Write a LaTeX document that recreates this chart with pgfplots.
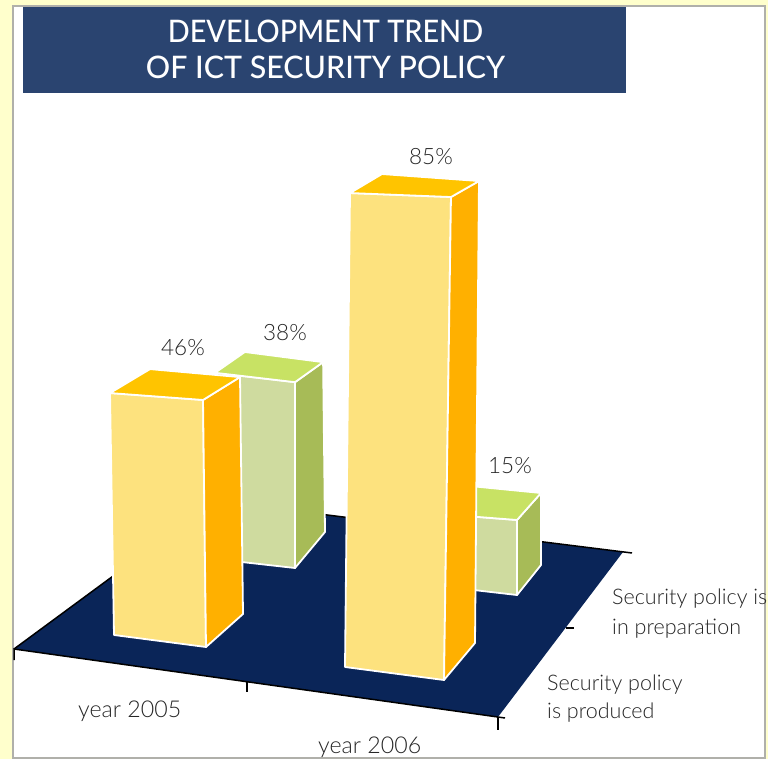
\documentclass[border=0pt]{standalone}
\usepackage{fontspec}
\setmainfont{Lato Medium}
\newfontfamily\lightfont{Lato Light}
\usepackage{pgfplots}
\pgfplotsset{compat=1.18}

\definecolor{cream}{HTML}{FFFFCC}
\definecolor{panelline}{HTML}{B0B0AA}
\definecolor{banner}{HTML}{2A4470}
\definecolor{floorblue}{HTML}{0A2558}
\definecolor{yfront}{HTML}{FDE27E}
\definecolor{yside}{HTML}{FFB000}
\definecolor{ytop}{HTML}{FFC400}
\definecolor{gfront}{HTML}{CFDB9F}
\definecolor{gside}{HTML}{A7BB57}
\definecolor{gtop}{HTML}{C8E264}
\definecolor{labelgrey}{HTML}{262626}

\pgfplotsset{
  face/.style={fill=#1, draw=white, line width=1.8pt, line join=round},
  floorline/.style={black, line width=1.5pt},
}
\tikzset{
  lab/.style={anchor=west, text=labelgrey, inner sep=0pt,
    font=\lightfont\fontsize{21.5}{22}\selectfont},
  yearlab/.style={lab, font=\lightfont\fontsize{23.2}{24}\selectfont},
  val/.style={lab, anchor=center, font=\lightfont\fontsize{22.5}{23}\selectfont},
  head/.style={text=white, inner sep=0pt, font=\fontsize{31}{31}\selectfont},
}

\begin{document}
\begin{tikzpicture}
\begin{axis}[
    scale only axis, width=768pt, height=759pt,
    xmin=0, xmax=768, ymin=0, ymax=759, y dir=reverse,
    hide axis,
    % x y = foot of the edge in the picture, z = percent, s d = edge's slope per percent
    table/x expr=\thisrow{x}+\thisrow{d}*\thisrow{z},
    table/y expr=\thisrow{y}-\thisrow{s}*\thisrow{z},
]
% page and panel
\addplot[fill=cream, draw=none] coordinates {(0,0) (768,0) (768,759) (0,759)} -- cycle;
\addplot[fill=white, draw=panelline, line width=2pt] coordinates {(12.5,6) (765,6) (765,757.5) (12.5,757.5)} -- cycle;
\addplot[fill=banner, draw=none] coordinates {(23,7) (626,7) (626,93) (23,93)} -- cycle;

% floor
\addplot[fill=floorblue, draw=none] coordinates {(14,649) (215,501) (623,552) (498,717)} -- cycle;
\addplot[floorline] coordinates {(14,649) (215,501) (632,553)};
\addplot[floorline] coordinates {(14,660) (14,649) (505,718)};
\addplot[floorline] coordinates {(247,682) (247,692)};
\addplot[floorline] coordinates {(498,717) (498,730)};
\addplot[floorline] coordinates {(566,628) (574,628)};

% 2005, in preparation
\addplot[face=gfront] table {
x y z s d
215 559 0 4.9 0
295 568 0 4.89 0
295 568 38 4.89 0
215 559 38 4.9 0
} -- cycle;
\addplot[face=gside] table {
x y z s d
295 568 0 4.89 0
325 532 0 4.47 -0.05
325 532 38 4.47 -0.05
295 568 38 4.89 0
} -- cycle;
\addplot[face=gtop] table {
x y z s d
215 559 38 4.9 0
295 568 38 4.89 0
325 532 38 4.47 -0.05
246 523 38 4.5 -0.03
} -- cycle;

% 2006, in preparation
\addplot[face=gfront] table {
x y z s d
465 589 0 4.87 0
517 595 0 5 0
517 595 15 5 0
465 589 15 4.87 0
} -- cycle;
\addplot[face=gside] table {
x y z s d
517 595 0 5 0
541 565 0 4.8 0
541 565 15 4.8 0
517 595 15 5 0
} -- cycle;
\addplot[face=gtop] table {
x y z s d
465 589 15 4.87 0
517 595 15 5 0
541 565 15 4.8 0
470 558 15 4.8 0
} -- cycle;

% 2005, produced
\addplot[face=yfront] table {
x y z s d
114 635 0 5.26 -0.087
206 647 0 5.37 -0.065
206 647 46 5.37 -0.065
114 635 46 5.26 -0.087
} -- cycle;
\addplot[face=yside] table {
x y z s d
206 647 0 5.37 -0.065
243 614 0 5.15 -0.065
243 614 46 5.15 -0.065
206 647 46 5.37 -0.065
} -- cycle;
\addplot[face=ytop] table {
x y z s d
114 635 46 5.26 -0.087
206 647 46 5.37 -0.065
243 614 46 5.15 -0.065
153 606 46 5.15 -0.065
} -- cycle;

% 2006, produced
\addplot[face=yfront] table {
x y z s d
345 667 0 5.576 0.0588
444 680 0 5.682 0.082
444 680 85 5.682 0.082
345 667 85 5.576 0.0588
} -- cycle;
\addplot[face=yside] table {
x y z s d
444 680 0 5.682 0.082
475 643 0 5.435 0.047
475 643 85 5.435 0.047
444 680 85 5.682 0.082
} -- cycle;
\addplot[face=ytop] table {
x y z s d
345 667 85 5.576 0.0588
444 680 85 5.682 0.082
475 643 85 5.435 0.047
377 636 85 5.435 0.0588
} -- cycle;

% title
\node[head, xscale=0.93] at (axis cs:325.5,31) {DEVELOPMENT TREND};
\node[head, xscale=0.98] at (axis cs:325.5,67) {OF ICT SECURITY POLICY};

% value labels
\node[val] at (axis cs:183,348) {46\%};
\node[val] at (axis cs:285,333) {38\%};
\node[val] at (axis cs:431,157) {85\%};
\node[val] at (axis cs:510,466) {15\%};

% category labels
\node[yearlab] at (axis cs:78,711) {year 2005};
\node[yearlab] at (axis cs:318,747) {year 2006};
\node[lab] at (axis cs:612,599) {Security policy is};
\node[lab] at (axis cs:612,629) {in preparation};
\node[lab] at (axis cs:547,685) {Security policy};
\node[lab] at (axis cs:547,713) {is produced};
\end{axis}
\end{tikzpicture}
\end{document}
